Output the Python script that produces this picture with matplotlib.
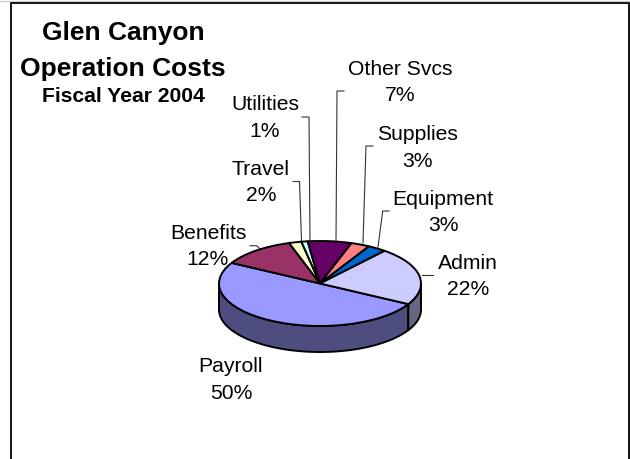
import numpy as np
import matplotlib
matplotlib.use('Agg')
import matplotlib.pyplot as plt
from matplotlib.transforms import Affine2D

categories = ['Payroll', 'Benefits', 'Travel', 'Utilities', 'Other Svcs', 'Supplies', 'Equipment', 'Admin']
values = [50, 12, 2, 1, 7, 3, 3, 22]
top_colors = ['#9999FF', '#993366', '#FFFFCC', '#CCFFFF', '#660066', '#FF8080', '#0066CC', '#CCCCFF']
wall_colors = ['#4D4D80', '#4D1A33', '#808066', '#668080', '#330033', '#804040', '#003366', '#666680']

W, H = 630, 460
CX, CY = 320, 284.5      # pie centre in pixels
RX, RY = 101, 42.5       # top ellipse semi axes
DEPTH = 26 / RY
START = -29
EDGE_LW = 1.4

plt.rcParams['font.family'] = ['Liberation Sans', 'DejaVu Sans']

fig = plt.figure(figsize=(W / 100, H / 100), dpi=100, facecolor='white')
ax = fig.add_axes([0, 0, 1, 1])

# pixel coordinates, origin top left, for labels and leader lines
px = Affine2D().scale(1 / W, -1 / H).translate(0, 1) + fig.transFigure

# top of the pie
ax.pie(values, colors=top_colors, startangle=START, counterclock=False, radius=1,
       wedgeprops=dict(edgecolor='black', linewidth=EDGE_LW, zorder=3))
ax.set_aspect('auto')
ax.set_xlim(-CX / RX, (W - CX) / RX)
ax.set_ylim((CY - H) / RY, CY / RY)
ax.axis('off')

# side wall, only the part of each slice on the lower half
edges = START - np.cumsum([0] + values) * 3.6
for i, color in enumerate(wall_colors):
    for hi, lo in [(0, -180), (-360, -540)]:
        a = min(edges[i], hi)
        b = max(edges[i + 1], lo)
        if a <= b:
            continue
        t = np.radians(np.linspace(a, b, 80))
        x = np.cos(t)
        y = np.sin(t)
        ax.fill(np.r_[x, x[::-1]], np.r_[y, y[::-1] - DEPTH], facecolor=color,
                edgecolor='black', linewidth=EDGE_LW, zorder=2, joinstyle='round')

# frame, open at the bottom
fig.add_artist(plt.Line2D([10.5, 10.5, 629.3, 629.3], [460, 4, 4, 460], color='black', lw=1.3,
                          transform=px, solid_joinstyle='miter'))
fig.add_artist(plt.Line2D([0, 630], [2.2, 2.2], color='#c8c8c8', lw=0.8, transform=px))

# titles
title_lines = ['Glen Canyon', 'Operation Costs', 'Fiscal Year 2004']
title_y = [33, 69, 97]
title_size = [19, 19, 15.2]
for s, y, fs in zip(title_lines, title_y, title_size):
    ax.text(123, y, s, transform=px, ha='center', va='center', fontsize=fs, weight='bold', color='black')

# data labels
label_x = [231, 208, 261, 265, 400, 417, 443, 468]
label_y = [380, 246.5, 182.5, 118, 82.5, 148, 212.5, 276.5]
for name, v, x, y in zip(categories, values, label_x, label_y):
    ax.text(x, y, f'{name}\n{v}%', transform=px, ha='center', va='center', fontsize=15.2,
            linespacing=1.5, color='black', zorder=5)

# leader lines
leaders = [
    ([250, 256.7, 260], [246.7, 246.7, 250]),
    ([293, 299.5, 301.5], [182.5, 182.5, 242]),
    ([302, 309, 310], [118, 118, 242]),
    ([344, 337, 336], [92, 92, 242]),
    ([373, 366, 363], [147, 147, 244]),
    ([389, 382.7, 378], [212, 212, 248]),
    ([433, 421.7], [276, 276]),
]
for lx, ly in leaders:
    ax.plot(lx, ly, color='#333333', lw=0.8, transform=px, zorder=1, clip_on=False)

fig.savefig('out.png', dpi=100)
